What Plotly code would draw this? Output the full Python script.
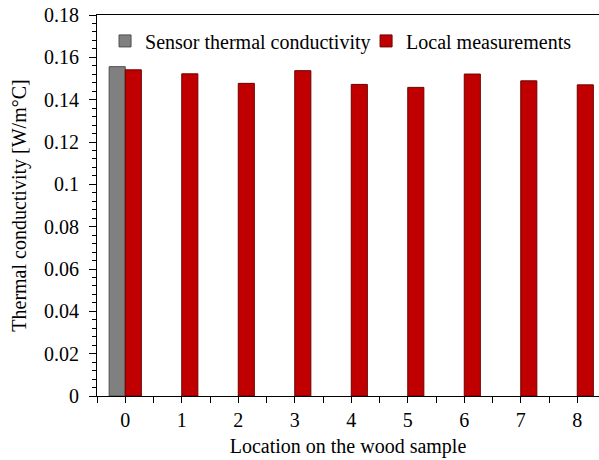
import plotly.graph_objects as go

locations = [0, 1, 2, 3, 4, 5, 6, 7, 8]
sensor_value = [0.1556]
local_values = [0.1541, 0.1522, 0.1477, 0.1537, 0.1472, 0.1458, 0.1521, 0.1489, 0.1470]
y_ticks = [0, 0.02, 0.04, 0.06, 0.08, 0.1, 0.12, 0.14, 0.16, 0.18]
y_labels = ["0", "0.02", "0.04", "0.06", "0.08", "0.1", "0.12", "0.14", "0.16", "0.18"]

FONT = "Liberation Serif"
SIZE = 20

fig = go.Figure()
fig.add_trace(
    go.Bar(
        x=locations[:1],
        y=sensor_value,
        name="Sensor thermal conductivity",
        marker={"color": "#808080", "line": {"color": "#4d4d4d", "width": 1}},
        legend="legend",
    )
)
fig.add_trace(
    go.Bar(
        x=locations,
        y=local_values,
        name="Local measurements",
        marker={"color": "#c00000", "line": {"color": "#6e0000", "width": 1}},
        legend="legend2",
    )
)

# tick marks every half location, labels only on whole ones
half_ticks = [i * 0.5 - 0.5 for i in range(19)]
half_text = [str(int(v)) if v == int(v) and v >= 0 else "" for v in half_ticks]

legend_style = {
    "orientation": "h",
    "y": 0.932,
    "xanchor": "left",
    "yanchor": "middle",
    "font": {"family": FONT, "size": SIZE},
    "itemwidth": 30,
    "bgcolor": "rgba(0,0,0,0)",
}

fig.update_layout(
    width=599,
    height=460,
    margin={"l": 97, "r": 0, "t": 15, "b": 64},
    paper_bgcolor="white",
    plot_bgcolor="white",
    font={"family": FONT, "size": SIZE, "color": "black"},
    barmode="group",
    bargap=0.43,
    bargroupgap=0,
    showlegend=True,
    legend={**legend_style, "x": 0.016},
    legend2={**legend_style, "x": 0.536},
    xaxis={
        "range": [-0.5, 8.385],
        "tickvals": half_ticks,
        "ticktext": half_text,
        "tickfont": {"family": FONT, "size": SIZE},
        "ticks": "outside",
        "ticklen": 6,
        "tickcolor": "black",
        "showline": True,
        "linecolor": "black",
        "linewidth": 1,
        "mirror": True,
        "showgrid": False,
        "zeroline": False,
        "automargin": False,
        "title": {"text": "Location on the wood sample", "standoff": 8,
                  "font": {"family": FONT, "size": SIZE}},
    },
    yaxis={
        "range": [0, 0.18],
        "tickvals": y_ticks,
        "ticktext": y_labels,
        "tickfont": {"family": FONT, "size": SIZE},
        "ticklabelstandoff": 6,
        "ticklabeloverflow": "allow",
        "ticks": "outside",
        "ticklen": 7,
        "tickcolor": "black",
        "minor": {"dtick": 0.004, "ticks": "outside", "ticklen": 4, "tickcolor": "black"},
        "showline": True,
        "linecolor": "black",
        "linewidth": 1,
        "showgrid": False,
        "zeroline": False,
        "automargin": False,
        "title": {"text": "Thermal conductivity [W/m°C]", "standoff": 12,
                  "font": {"family": FONT, "size": SIZE}},
    },
)

# the page's default body margin would push the figure 8px in
fig.write_html(
    "out.html",
    config={"displayModeBar": False},
    post_script="document.body.style.margin = '0';",
)
